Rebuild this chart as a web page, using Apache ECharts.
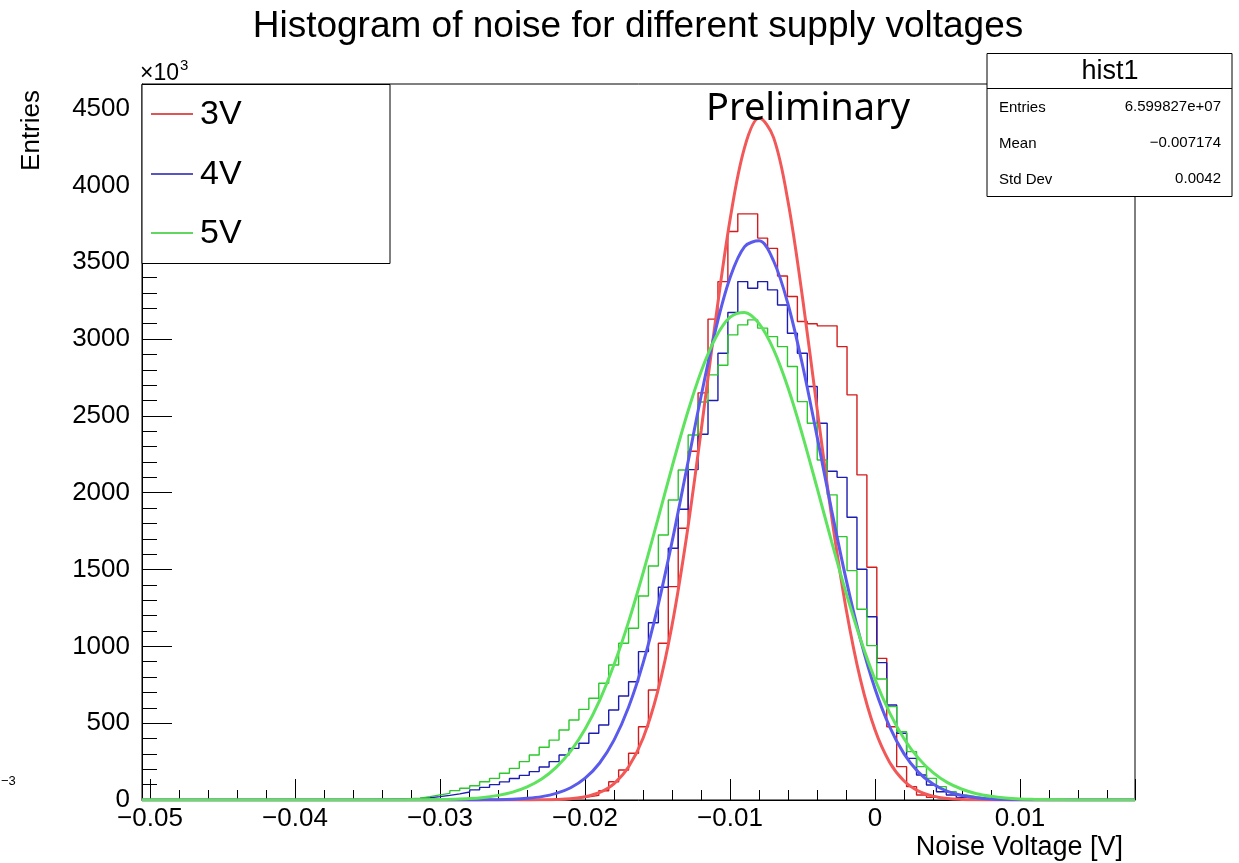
<!DOCTYPE html>
<html><head><meta charset="utf-8">
<script src="https://cdn.jsdelivr.net/npm/echarts@6/dist/echarts.min.js"></script>
<style>html,body{margin:0;padding:0;background:#fff}#c{width:1239px;height:863px}</style>
</head><body><div id="c"></div>
<script>
// ---------- data ----------
const TITLE = 'Histogram of noise for different supply voltages';
const SERIES_NAMES = ['3V', '4V', '5V'];
const X_TITLE = 'Noise Voltage [V]';
const Y_TITLE = 'Entries';
const STATS_NAME = 'hist1';
const STATS_LABELS = ['Entries', 'Mean', 'Std Dev'];
const STATS_VALUES = ['6.599827e+07', '\u22120.007174', '0.0042'];

// histogram binning (x range of the histogram)
const HIST_XMIN = -0.05057, HIST_XMAX = 0.01793, N_BINS = 100;
// axis tick layout
const X_TICK_MIN = -0.05, X_TICK_INTERVAL = 0.01;
const Y_MAX = 4660, Y_INTERVAL = 500;

// bin contents (x10^3 entries), one value per bin, 100 bins
const COUNTS_3V = [
  0,0,0,0,0,0,0,0,0,0, 0,0,0,0,0,0,0,0,0,0, 0,0,0,0,0,0,0,0,0,0, 0,0,0,0,0,0,0,0,0,0,
  3,5,8,12,20,30,60,119,195,304, 477,716,1020,1389,1769,2270,2650,3130,3374,3700,
  3815,3815,3657,3590,3410,3277,3114,3100,3086,3086, 2951,2637,2116,1515,922,477,217,87,33,17,
  8,4,2,1,0,0,0,0,0,0, 0,0,0,0,0,0,0,0,0,0
];
const COUNTS_4V = [
  0,0,0,0,0,0,0,0,0,0, 0,0,0,0,0,0,0,0,0,0, 0,0,
  1,2,3,4,6,10,15,22, 30,40,52,66,82,100,118,140,160,185,
  215,250,293,336,369,434,488,586,677,770, 966,1154,1385,1638,1892,2150,2380,2600,2908,3173,
  3374,3331,3374,3320,3222,3038,2908,2691,2452,2140, 2100,1840,1502,1193,894,618,434,271,163,98,
  54,33,17,10,6,3,2,1,0,0, 0,0,0,0,0,0,0,0,0,0
];
const COUNTS_5V = [
  0,0,0,0,0,0,0,0,0,0, 0,0,0,0,0,0,0,0,0,0,
  1,1,2,3,4,6,8,12,22,33, 43,61,76,93,119,141,174,206,250,293,
  343,390,456,521,590,662,760,879,1020,1118, 1328,1523,1725,1953,2148,2376,2590,2767,2830,3027,
  3092,3125,3071,3016,2951,2821,2593,2452,2213,1986, 1714,1493,1241,1005,788,608,445,315,217,141,
  87,54,33,22,14,9,5,3,2,1, 0,0,0,0,0,0,0,0,0,0
];

// fitted curves, read at x = -0.050, -0.049, ... , 0.017 (68 points)
const FIT_X_START = -0.050, FIT_STEP = 0.001;
const FIT_3V = [
  0,0,0,0,0,0,0,0,0,0, 0,0,0,0,0,0,0,0,0,0, 0,0,0,0,0,0,0,
  1,3,8,21,49,107,216,404,705,1141,1717,2403,3126,3780,4248,4438,4311,3892,3266,2547,1847,1245,780,455,246,124,58,25,10,4,1,
  0,0,0,0,0,0,0,0,0,0
];
const FIT_4V = [
  0,0,0,0,0,0,0,0,0,0, 0,0,0,0,0,0,0,0,0,0, 0,0,0,
  1,2,5,11,22,43,80,142,241,391,605,892,1254,1683,2154,2629,3061,3400,3602,3639,3508,3225,2828,2365,1887,1436,1042,722,477,300,180,104,56,29,15,7,3,1,
  0,0,0,0,0,0,0
];
const FIT_5V = [
  0,0,0,0,0,0,0,0,0,0, 0,0,0,0,0,0,0,0,
  1,1,3,5,9,17,30,51,85,136,212,318,462,649,883,1161,1479,1821,2170,2501,2789,3009,3142,3173,3100,2931,2681,2372,2031,1682,1348,1045,784,569,399,271,178,113,70,41,24,13,7,4,2,1,
  0,0,0,0
];

const HIST_COLORS = ['#d41c1c', '#1c1cb0', '#2cc82c'];
const FIT_COLORS = ['#f25858', '#5a5aec', '#5ee35e'];

// ---------- build ----------
const FONT = '"Liberation Sans", Arial, Helvetica, sans-serif';
const binEdge = i => HIST_XMIN + (HIST_XMAX - HIST_XMIN) * i / N_BINS;
function histData(counts) {
  const d = counts.map((c, i) => [binEdge(i), c]);
  d.push([binEdge(N_BINS), counts[N_BINS - 1]]);
  return d;
}
function fitData(vals) {
  const d = [[HIST_XMIN, 0]];
  vals.forEach((v, i) => d.push([FIT_X_START + FIT_STEP * i, v]));
  d.push([HIST_XMAX, 0]);
  return d;
}
const COUNTS = [COUNTS_3V, COUNTS_4V, COUNTS_5V];
const FITS = [FIT_3V, FIT_4V, FIT_5V];

const series = [];
COUNTS.forEach((c, k) => series.push({
  name: SERIES_NAMES[k], type: 'line', step: 'end', data: histData(c),
  xAxisIndex: 0, yAxisIndex: 0, symbol: 'none', clip: true,
  lineStyle: { color: HIST_COLORS[k], width: 1.4 }, z: 3
}));
FITS.forEach((f, k) => series.push({
  name: SERIES_NAMES[k] + ' fit', type: 'line', smooth: 0.35, data: fitData(f),
  xAxisIndex: 0, yAxisIndex: 0, symbol: 'none', clip: true,
  lineStyle: { color: FIT_COLORS[k], width: 3 }, z: 4
}));

const fmtX = v => {
  const r = Math.round(v * 100) / 100;
  if (r === 0) return '0';
  return String(r).replace('-', '\u2212');
};
const fmtY = v => String(Math.round(v));

const legendItems = [];
SERIES_NAMES.forEach((n, k) => {
  const y = [114, 174, 233][k];
  legendItems.push({ type: 'line', shape: { x1: 151, y1: y, x2: 193, y2: y },
    style: { stroke: HIST_COLORS[k], lineWidth: 1.5 }, z: 101 });
  legendItems.push({ type: 'text', x: 200, y: y + 1,
    style: { text: n, font: '34px ' + FONT, fill: '#000', verticalAlign: 'middle' }, z: 101 });
});

const statsItems = [
  { type: 'rect', shape: { x: 987, y: 53.5, width: 245, height: 143 },
    style: { fill: '#fff', stroke: '#000', lineWidth: 1 }, z: 100 },
  { type: 'line', shape: { x1: 987, y1: 88.5, x2: 1232, y2: 88.5 },
    style: { stroke: '#000', lineWidth: 1 }, z: 101 },
  { type: 'text', x: 1110, y: 72,
    style: { text: STATS_NAME, font: '27px ' + FONT, fill: '#000', align: 'center', verticalAlign: 'middle' }, z: 101 }
];
STATS_LABELS.forEach((l, i) => {
  const y = [108, 144, 180][i];
  statsItems.push({ type: 'text', x: 999, y: y,
    style: { text: l, font: '15px ' + FONT, fill: '#000', verticalAlign: 'middle' }, z: 101 });
  statsItems.push({ type: 'text', x: 1221, y: y - 1,
    style: { text: STATS_VALUES[i], font: '15px ' + FONT, fill: '#000', align: 'right', verticalAlign: 'middle' }, z: 101 });
});

const option = {
  animation: false,
  backgroundColor: '#fff',
  grid: [
    { left: 142, top: 84, width: 993, height: 716, show: true, borderColor: '#000', borderWidth: 1, backgroundColor: 'transparent' },
    { left: 150, top: 84, width: 985, height: 716, show: false }
  ],
  xAxis: [
    { type: 'value', gridIndex: 0, min: HIST_XMIN, max: HIST_XMAX,
      axisLine: { show: true, onZero: false, lineStyle: { color: '#000', width: 1 } },
      axisTick: { show: false }, axisLabel: { show: false }, splitLine: { show: false } },
    { type: 'value', gridIndex: 1, min: X_TICK_MIN, max: HIST_XMAX, interval: X_TICK_INTERVAL,
      axisLine: { show: false, onZero: false },
      axisTick: { show: true, inside: true, length: 21, lineStyle: { color: '#000', width: 1 } },
      minorTick: { show: true, splitNumber: 5, length: 10, lineStyle: { color: '#000', width: 1 } },
      axisLabel: { show: true, margin: 6, formatter: fmtX, showMaxLabel: false,
        fontSize: 26, fontFamily: FONT, color: '#000' },
      splitLine: { show: false } }
  ],
  yAxis: [
    { type: 'value', gridIndex: 0, min: 0, max: Y_MAX, interval: Y_INTERVAL,
      axisLine: { show: true, onZero: false, lineStyle: { color: '#000', width: 1 } },
      axisTick: { show: true, inside: true, length: 30, lineStyle: { color: '#000', width: 1 } },
      minorTick: { show: true, splitNumber: 5, length: 15, lineStyle: { color: '#000', width: 1 } },
      axisLabel: { show: true, margin: 12, showMaxLabel: false, formatter: fmtY,
        fontSize: 26, fontFamily: FONT, color: '#000' },
      splitLine: { show: false } },
    { type: 'value', gridIndex: 1, min: 0, max: 1, show: false }
  ],
  series: series,
  graphic: [
    { type: 'text', x: 638, y: 8,
      style: { text: TITLE, font: '37px ' + FONT, fill: '#000', align: 'center', verticalAlign: 'top' }, z: 100 },
    { type: 'text', x: 706, y: 109,
      style: { text: 'Preliminary', font: '38px "Noto Sans", sans-serif', fill: '#000', verticalAlign: 'middle' }, z: 100 },
    { type: 'text', x: 140, y: 74,
      style: { text: '\u00d710{s|3}', font: '23px ' + FONT, fill: '#000', verticalAlign: 'middle',
        rich: { s: { fontSize: 15, fontFamily: FONT, verticalAlign: 'top', padding: [0, 0, 16, 1] } } }, z: 100 },
    { type: 'text', x: 32, y: 90, rotation: Math.PI / 2,
      style: { text: Y_TITLE, font: '26px ' + FONT, fill: '#000', align: 'right', verticalAlign: 'middle' }, z: 100 },
    { type: 'text', x: 1123, y: 848,
      style: { text: X_TITLE, font: '27px ' + FONT, fill: '#000', align: 'right', verticalAlign: 'middle' }, z: 100 },
    { type: 'text', x: 1, y: 781,
      style: { text: '\u22123', font: '13px ' + FONT, fill: '#000', verticalAlign: 'middle' }, z: 100 },
    { type: 'rect', shape: { x: 142, y: 84.5, width: 248, height: 179 },
      style: { fill: '#fff', stroke: '#000', lineWidth: 1 }, z: 100 },
    ...legendItems,
    ...statsItems
  ]
};
const chart = echarts.init(document.getElementById('c'), null, { renderer: 'canvas' });
chart.setOption(option);
</script></body></html>
